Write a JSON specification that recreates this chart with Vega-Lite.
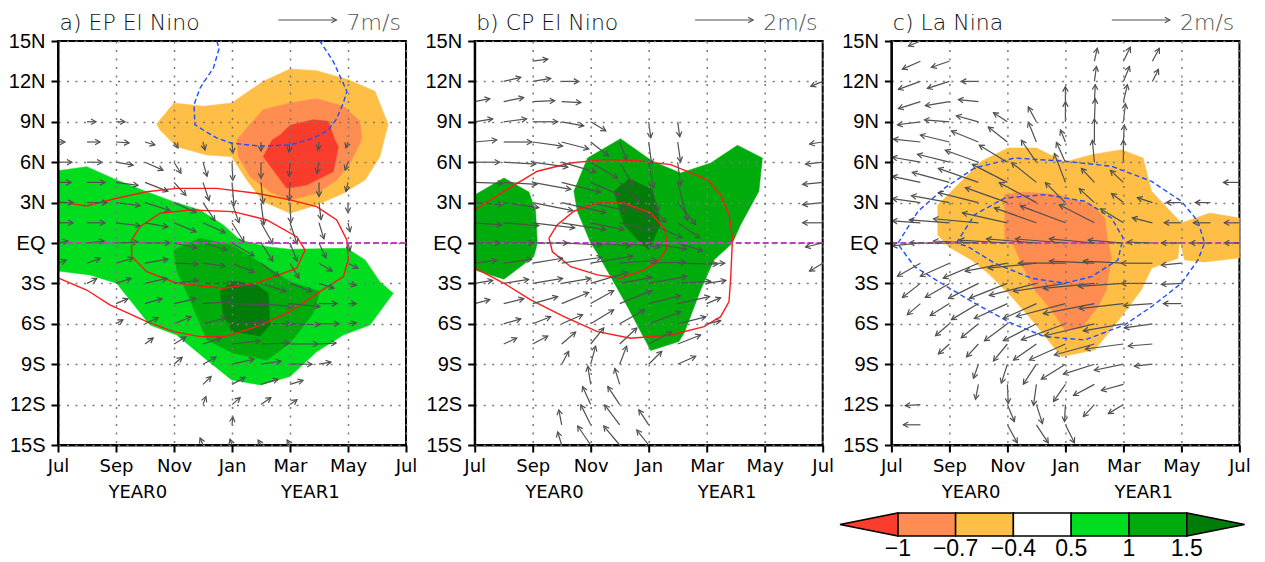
{
"$schema":"https://vega.github.io/schema/vega-lite/v6.json",
"padding":0,
"background":"white",
"config":{"view":{"stroke":"black","strokeWidth":2},"mark":{"invalid":null}},
"datasets":{
"d":[
{"k":"t","p":"a","tt":"a) EP El Nino","rt":"7m/s"},
{"k":"t","p":"b","tt":"b) CP El Nino","rt":"2m/s"},
{"k":"t","p":"c","tt":"c) La Nina","rt":"2m/s"},

{"k":"f","p":"a","id":"ao","lev":"o","i":0,"x":3.4,"y":8.84},{"k":"f","p":"a","id":"ao","lev":"o","i":1,"x":4,"y":10.4},{"k":"f","p":"a","id":"ao","lev":"o","i":2,"x":5.01,"y":10.15},{"k":"f","p":"a","id":"ao","lev":"o","i":3,"x":5.99,"y":10.4},{"k":"f","p":"a","id":"ao","lev":"o","i":4,"x":7.08,"y":12.01},{"k":"f","p":"a","id":"ao","lev":"o","i":5,"x":8,"y":12.92},{"k":"f","p":"a","id":"ao","lev":"o","i":6,"x":8.92,"y":12.8},{"k":"f","p":"a","id":"ao","lev":"o","i":7,"x":10.01,"y":12.13},{"k":"f","p":"a","id":"ao","lev":"o","i":8,"x":10.93,"y":11.27},{"k":"f","p":"a","id":"ao","lev":"o","i":9,"x":11.39,"y":8.79},{"k":"f","p":"a","id":"ao","lev":"o","i":10,"x":11.33,"y":8.39},{"k":"f","p":"a","id":"ao","lev":"o","i":11,"x":11.1,"y":6.41},{"k":"f","p":"a","id":"ao","lev":"o","i":12,"x":10.59,"y":4.68},{"k":"f","p":"a","id":"ao","lev":"o","i":13,"x":9.84,"y":3.69},{"k":"f","p":"a","id":"ao","lev":"o","i":14,"x":8.92,"y":2.82},{"k":"f","p":"a","id":"ao","lev":"o","i":15,"x":8,"y":2.21},{"k":"f","p":"a","id":"ao","lev":"o","i":16,"x":7.08,"y":3.07},{"k":"f","p":"a","id":"ao","lev":"o","i":17,"x":6.51,"y":4.68},{"k":"f","p":"a","id":"ao","lev":"o","i":18,"x":5.99,"y":6.41},{"k":"f","p":"a","id":"ao","lev":"o","i":19,"x":5.13,"y":6.54},{"k":"f","p":"a","id":"ao","lev":"o","i":20,"x":4.09,"y":7.15},{"k":"f","p":"a","id":"ao","lev":"o","i":21,"x":3.52,"y":8.39},

{"k":"f","p":"a","id":"as","lev":"s","i":0,"x":6.51,"y":8.54},{"k":"f","p":"a","id":"as","lev":"s","i":1,"x":7.08,"y":9.9},{"k":"f","p":"a","id":"as","lev":"s","i":2,"x":8,"y":10.4},{"k":"f","p":"a","id":"as","lev":"s","i":3,"x":8.92,"y":10.72},{"k":"f","p":"a","id":"as","lev":"s","i":4,"x":9.84,"y":10.15},{"k":"f","p":"a","id":"as","lev":"s","i":5,"x":10.41,"y":9.04},{"k":"f","p":"a","id":"as","lev":"s","i":6,"x":10.47,"y":7.8},{"k":"f","p":"a","id":"as","lev":"s","i":7,"x":10.41,"y":7.41},{"k":"f","p":"a","id":"as","lev":"s","i":8,"x":10.07,"y":5.92},{"k":"f","p":"a","id":"as","lev":"s","i":9,"x":9.61,"y":4.68},{"k":"f","p":"a","id":"as","lev":"s","i":10,"x":8.92,"y":3.69},{"k":"f","p":"a","id":"as","lev":"s","i":11,"x":8,"y":3.2},{"k":"f","p":"a","id":"as","lev":"s","i":12,"x":7.31,"y":3.81},{"k":"f","p":"a","id":"as","lev":"s","i":13,"x":6.62,"y":4.93},{"k":"f","p":"a","id":"as","lev":"s","i":14,"x":6.22,"y":6.41},{"k":"f","p":"a","id":"as","lev":"s","i":15,"x":6.17,"y":7.65},

{"k":"f","p":"a","id":"ar","lev":"r","i":0,"x":7.66,"y":8.02},{"k":"f","p":"a","id":"ar","lev":"r","i":1,"x":8,"y":8.74},{"k":"f","p":"a","id":"ar","lev":"r","i":2,"x":8.8,"y":9.16},{"k":"f","p":"a","id":"ar","lev":"r","i":3,"x":9.32,"y":9.04},{"k":"f","p":"a","id":"ar","lev":"r","i":4,"x":9.55,"y":7.65},{"k":"f","p":"a","id":"ar","lev":"r","i":5,"x":9.67,"y":7.15},{"k":"f","p":"a","id":"ar","lev":"r","i":6,"x":9.49,"y":5.3},{"k":"f","p":"a","id":"ar","lev":"r","i":7,"x":8.58,"y":4.31},{"k":"f","p":"a","id":"ar","lev":"r","i":8,"x":7.89,"y":4.06},{"k":"f","p":"a","id":"ar","lev":"r","i":9,"x":7.08,"y":6.41},{"k":"f","p":"a","id":"ar","lev":"r","i":10,"x":7.38,"y":7.65},

{"k":"f","p":"a","id":"ag","lev":"g","i":0,"x":0,"y":5.37},{"k":"f","p":"a","id":"ag","lev":"g","i":1,"x":0.99,"y":5.67},{"k":"f","p":"a","id":"ag","lev":"g","i":2,"x":2.02,"y":4.68},{"k":"f","p":"a","id":"ag","lev":"g","i":3,"x":3.06,"y":3.81},{"k":"f","p":"a","id":"ag","lev":"g","i":4,"x":3.98,"y":3.07},{"k":"f","p":"a","id":"ag","lev":"g","i":5,"x":4.9,"y":2.45},{"k":"f","p":"a","id":"ag","lev":"g","i":6,"x":5.7,"y":1.34},{"k":"f","p":"a","id":"ag","lev":"g","i":7,"x":6.28,"y":0.23},{"k":"f","p":"a","id":"ag","lev":"g","i":8,"x":7.2,"y":-0.27},{"k":"f","p":"a","id":"ag","lev":"g","i":9,"x":8,"y":-0.46},{"k":"f","p":"a","id":"ag","lev":"g","i":10,"x":9.96,"y":-0.39},{"k":"f","p":"a","id":"ag","lev":"g","i":11,"x":10.59,"y":-1.26},{"k":"f","p":"a","id":"ag","lev":"g","i":12,"x":11.1,"y":-2.87},{"k":"f","p":"a","id":"ag","lev":"g","i":13,"x":11.56,"y":-3.73},{"k":"f","p":"a","id":"ag","lev":"g","i":14,"x":10.76,"y":-6.08},{"k":"f","p":"a","id":"ag","lev":"g","i":15,"x":9.84,"y":-6.83},{"k":"f","p":"a","id":"ag","lev":"g","i":16,"x":8.92,"y":-8.07},{"k":"f","p":"a","id":"ag","lev":"g","i":17,"x":8,"y":-9.92},{"k":"f","p":"a","id":"ag","lev":"g","i":18,"x":6.97,"y":-10.54},{"k":"f","p":"a","id":"ag","lev":"g","i":19,"x":5.99,"y":-10.17},{"k":"f","p":"a","id":"ag","lev":"g","i":20,"x":5.13,"y":-8.68},{"k":"f","p":"a","id":"ag","lev":"g","i":21,"x":4.09,"y":-6.83},{"k":"f","p":"a","id":"ag","lev":"g","i":22,"x":3.17,"y":-6.08},{"k":"f","p":"a","id":"ag","lev":"g","i":23,"x":2.02,"y":-2.99},{"k":"f","p":"a","id":"ag","lev":"g","i":24,"x":1.1,"y":-2.37},{"k":"f","p":"a","id":"ag","lev":"g","i":25,"x":0,"y":-2.08},

{"k":"f","p":"a","id":"am","lev":"m","i":0,"x":3.98,"y":-0.52},{"k":"f","p":"a","id":"am","lev":"m","i":1,"x":4.9,"y":0.35},{"k":"f","p":"a","id":"am","lev":"m","i":2,"x":5.99,"y":-0.14},{"k":"f","p":"a","id":"am","lev":"m","i":3,"x":7.2,"y":-1.76},{"k":"f","p":"a","id":"am","lev":"m","i":4,"x":8,"y":-2.87},{"k":"f","p":"a","id":"am","lev":"m","i":5,"x":9.03,"y":-3.61},{"k":"f","p":"a","id":"am","lev":"m","i":6,"x":8.8,"y":-5.22},{"k":"f","p":"a","id":"am","lev":"m","i":7,"x":8,"y":-7.44},{"k":"f","p":"a","id":"am","lev":"m","i":8,"x":7.2,"y":-8.68},{"k":"f","p":"a","id":"am","lev":"m","i":9,"x":6.04,"y":-8.19},{"k":"f","p":"a","id":"am","lev":"m","i":10,"x":5.13,"y":-7.2},{"k":"f","p":"a","id":"am","lev":"m","i":11,"x":4.55,"y":-4.23},{"k":"f","p":"a","id":"am","lev":"m","i":12,"x":4.09,"y":-2.0},

{"k":"f","p":"a","id":"ak","lev":"k","i":0,"x":5.59,"y":-3.61},{"k":"f","p":"a","id":"ak","lev":"k","i":1,"x":5.99,"y":-2.8},{"k":"f","p":"a","id":"ak","lev":"k","i":2,"x":6.85,"y":-3.11},{"k":"f","p":"a","id":"ak","lev":"k","i":3,"x":7.25,"y":-3.73},{"k":"f","p":"a","id":"ak","lev":"k","i":4,"x":7.31,"y":-6.08},{"k":"f","p":"a","id":"ak","lev":"k","i":5,"x":6.97,"y":-6.9},{"k":"f","p":"a","id":"ak","lev":"k","i":6,"x":5.99,"y":-6.58},{"k":"f","p":"a","id":"ak","lev":"k","i":7,"x":5.7,"y":-5.34},

{"k":"f","p":"b","id":"bm1","lev":"m","i":0,"x":0,"y":3.57},{"k":"f","p":"b","id":"bm1","lev":"m","i":1,"x":1.01,"y":4.83},{"k":"f","p":"b","id":"bm1","lev":"m","i":2,"x":1.87,"y":3.79},{"k":"f","p":"b","id":"bm1","lev":"m","i":3,"x":2.1,"y":2.36},{"k":"f","p":"b","id":"bm1","lev":"m","i":4,"x":2.16,"y":0},{"k":"f","p":"b","id":"bm1","lev":"m","i":5,"x":2.04,"y":-1.01},{"k":"f","p":"b","id":"bm1","lev":"m","i":6,"x":1.01,"y":-2.69},{"k":"f","p":"b","id":"bm1","lev":"m","i":7,"x":0,"y":-2.0},

{"k":"f","p":"b","id":"bm2","lev":"m","i":0,"x":3.42,"y":3.84},{"k":"f","p":"b","id":"bm2","lev":"m","i":1,"x":3.89,"y":6.31},{"k":"f","p":"b","id":"bm2","lev":"m","i":2,"x":5.03,"y":7.75},{"k":"f","p":"b","id":"bm2","lev":"m","i":3,"x":6.13,"y":6.07},{"k":"f","p":"b","id":"bm2","lev":"m","i":4,"x":7.1,"y":5.2},{"k":"f","p":"b","id":"bm2","lev":"m","i":5,"x":8.14,"y":5.94},{"k":"f","p":"b","id":"bm2","lev":"m","i":6,"x":9.06,"y":7.26},{"k":"f","p":"b","id":"bm2","lev":"m","i":7,"x":9.92,"y":6.31},{"k":"f","p":"b","id":"bm2","lev":"m","i":8,"x":9.8,"y":3.84},{"k":"f","p":"b","id":"bm2","lev":"m","i":9,"x":9.17,"y":1.36},{"k":"f","p":"b","id":"bm2","lev":"m","i":10,"x":8.89,"y":0},{"k":"f","p":"b","id":"bm2","lev":"m","i":11,"x":8.25,"y":-1.26},{"k":"f","p":"b","id":"bm2","lev":"m","i":12,"x":7.79,"y":-3.49},{"k":"f","p":"b","id":"bm2","lev":"m","i":13,"x":7.22,"y":-6.7},{"k":"f","p":"b","id":"bm2","lev":"m","i":14,"x":7.04,"y":-7.32},{"k":"f","p":"b","id":"bm2","lev":"m","i":15,"x":6.07,"y":-7.99},{"k":"f","p":"b","id":"bm2","lev":"m","i":16,"x":5.27,"y":-4.73},{"k":"f","p":"b","id":"bm2","lev":"m","i":17,"x":4.69,"y":-2.5},{"k":"f","p":"b","id":"bm2","lev":"m","i":18,"x":4.23,"y":-0.76},{"k":"f","p":"b","id":"bm2","lev":"m","i":19,"x":4,"y":0},{"k":"f","p":"b","id":"bm2","lev":"m","i":20,"x":3.54,"y":2.36},

{"k":"f","p":"b","id":"bk","lev":"k","i":0,"x":4.8,"y":3.84},{"k":"f","p":"b","id":"bk","lev":"k","i":1,"x":5.32,"y":4.78},{"k":"f","p":"b","id":"bk","lev":"k","i":2,"x":6.13,"y":3.96},{"k":"f","p":"b","id":"bk","lev":"k","i":3,"x":6.41,"y":1.36},{"k":"f","p":"b","id":"bk","lev":"k","i":4,"x":6.13,"y":0.13},{"k":"f","p":"b","id":"bk","lev":"k","i":5,"x":6,"y":-0.52},{"k":"f","p":"b","id":"bk","lev":"k","i":6,"x":5.72,"y":0},{"k":"f","p":"b","id":"bk","lev":"k","i":7,"x":5.15,"y":1.36},

{"k":"f","p":"c","id":"co","lev":"o","i":0,"x":1.6,"y":2.82},{"k":"f","p":"c","id":"co","lev":"o","i":1,"x":2.41,"y":4.58},{"k":"f","p":"c","id":"co","lev":"o","i":2,"x":3.1,"y":6.07},{"k":"f","p":"c","id":"co","lev":"o","i":3,"x":4.02,"y":7.06},{"k":"f","p":"c","id":"co","lev":"o","i":4,"x":5,"y":7.06},{"k":"f","p":"c","id":"co","lev":"o","i":5,"x":5.98,"y":6.02},{"k":"f","p":"c","id":"co","lev":"o","i":6,"x":6.9,"y":6.56},{"k":"f","p":"c","id":"co","lev":"o","i":7,"x":7.93,"y":6.93},{"k":"f","p":"c","id":"co","lev":"o","i":8,"x":8.68,"y":6.31},{"k":"f","p":"c","id":"co","lev":"o","i":9,"x":8.97,"y":3.84},{"k":"f","p":"c","id":"co","lev":"o","i":10,"x":10,"y":1.49},{"k":"f","p":"c","id":"co","lev":"o","i":11,"x":10.98,"y":2.23},{"k":"f","p":"c","id":"co","lev":"o","i":12,"x":12,"y":1.86},{"k":"f","p":"c","id":"co","lev":"o","i":13,"x":12,"y":-1.11},{"k":"f","p":"c","id":"co","lev":"o","i":14,"x":10.8,"y":-1.41},{"k":"f","p":"c","id":"co","lev":"o","i":15,"x":10.11,"y":-1.26},{"k":"f","p":"c","id":"co","lev":"o","i":16,"x":9.94,"y":0.22},{"k":"f","p":"c","id":"co","lev":"o","i":17,"x":9.88,"y":-1.13},{"k":"f","p":"c","id":"co","lev":"o","i":18,"x":8.97,"y":-1.87},{"k":"f","p":"c","id":"co","lev":"o","i":19,"x":8.62,"y":-3.49},{"k":"f","p":"c","id":"co","lev":"o","i":20,"x":7.93,"y":-5.47},{"k":"f","p":"c","id":"co","lev":"o","i":21,"x":7.01,"y":-7.94},{"k":"f","p":"c","id":"co","lev":"o","i":22,"x":5.86,"y":-8.44},{"k":"f","p":"c","id":"co","lev":"o","i":23,"x":4.94,"y":-5.96},{"k":"f","p":"c","id":"co","lev":"o","i":24,"x":4.14,"y":-3.98},{"k":"f","p":"c","id":"co","lev":"o","i":25,"x":3.33,"y":-2.25},{"k":"f","p":"c","id":"co","lev":"o","i":26,"x":2.76,"y":-1.26},{"k":"f","p":"c","id":"co","lev":"o","i":27,"x":1.98,"y":-0.3},{"k":"f","p":"c","id":"co","lev":"o","i":28,"x":1.6,"y":0.59},

{"k":"f","p":"c","id":"cs","lev":"s","i":0,"x":3.91,"y":3.59},{"k":"f","p":"c","id":"cs","lev":"s","i":1,"x":4.6,"y":3.79},{"k":"f","p":"c","id":"cs","lev":"s","i":2,"x":5.74,"y":3.59},{"k":"f","p":"c","id":"cs","lev":"s","i":3,"x":6.9,"y":2.85},{"k":"f","p":"c","id":"cs","lev":"s","i":4,"x":7.36,"y":1.86},{"k":"f","p":"c","id":"cs","lev":"s","i":5,"x":7.47,"y":0},{"k":"f","p":"c","id":"cs","lev":"s","i":6,"x":7.59,"y":-1.01},{"k":"f","p":"c","id":"cs","lev":"s","i":7,"x":7.41,"y":-3.49},{"k":"f","p":"c","id":"cs","lev":"s","i":8,"x":7.12,"y":-4.73},{"k":"f","p":"c","id":"cs","lev":"s","i":9,"x":6.55,"y":-6.33},{"k":"f","p":"c","id":"cs","lev":"s","i":10,"x":5.98,"y":-6.45},{"k":"f","p":"c","id":"cs","lev":"s","i":11,"x":5.52,"y":-4.97},{"k":"f","p":"c","id":"cs","lev":"s","i":12,"x":4.94,"y":-3.49},{"k":"f","p":"c","id":"cs","lev":"s","i":13,"x":4.48,"y":-1.5},{"k":"f","p":"c","id":"cs","lev":"s","i":14,"x":4.14,"y":0.22},{"k":"f","p":"c","id":"cs","lev":"s","i":15,"x":3.91,"y":0},

{"k":"l","p":"a","c":"r","id":"a1","i":0,"x":0,"y":3.07},{"k":"l","p":"a","c":"r","id":"a1","i":1,"x":0.99,"y":2.75},{"k":"l","p":"a","c":"r","id":"a1","i":2,"x":2.02,"y":3.32},{"k":"l","p":"a","c":"r","id":"a1","i":3,"x":3.06,"y":3.81},{"k":"l","p":"a","c":"r","id":"a1","i":4,"x":4.09,"y":4.06},{"k":"l","p":"a","c":"r","id":"a1","i":5,"x":5.47,"y":4.06},{"k":"l","p":"a","c":"r","id":"a1","i":6,"x":6.85,"y":3.69},{"k":"l","p":"a","c":"r","id":"a1","i":7,"x":8,"y":3.2},{"k":"l","p":"a","c":"r","id":"a1","i":8,"x":8.92,"y":2.7},{"k":"l","p":"a","c":"r","id":"a1","i":9,"x":9.61,"y":1.71},{"k":"l","p":"a","c":"r","id":"a1","i":10,"x":9.96,"y":0.23},{"k":"l","p":"a","c":"r","id":"a1","i":11,"x":10.01,"y":-1.26},{"k":"l","p":"a","c":"r","id":"a1","i":12,"x":9.84,"y":-2.5},{"k":"l","p":"a","c":"r","id":"a1","i":13,"x":9.03,"y":-3.61},{"k":"l","p":"a","c":"r","id":"a1","i":14,"x":8,"y":-5.1},{"k":"l","p":"a","c":"r","id":"a1","i":15,"x":6.85,"y":-6.21},{"k":"l","p":"a","c":"r","id":"a1","i":16,"x":5.76,"y":-6.95},{"k":"l","p":"a","c":"r","id":"a1","i":17,"x":4.9,"y":-6.95},{"k":"l","p":"a","c":"r","id":"a1","i":18,"x":3.98,"y":-6.58},{"k":"l","p":"a","c":"r","id":"a1","i":19,"x":3.06,"y":-5.84},{"k":"l","p":"a","c":"r","id":"a1","i":20,"x":1.79,"y":-4.6},{"k":"l","p":"a","c":"r","id":"a1","i":21,"x":0.99,"y":-3.49},{"k":"l","p":"a","c":"r","id":"a1","i":22,"x":0,"y":-2.59},

{"k":"l","p":"a","c":"r","id":"a2","i":0,"x":2.54,"y":0.23},{"k":"l","p":"a","c":"r","id":"a2","i":1,"x":2.83,"y":1.21},{"k":"l","p":"a","c":"r","id":"a2","i":2,"x":3.52,"y":2.21},{"k":"l","p":"a","c":"r","id":"a2","i":3,"x":4.55,"y":2.45},{"k":"l","p":"a","c":"r","id":"a2","i":4,"x":6.04,"y":2.33},{"k":"l","p":"a","c":"r","id":"a2","i":5,"x":7.2,"y":1.71},{"k":"l","p":"a","c":"r","id":"a2","i":6,"x":8.23,"y":0.47},{"k":"l","p":"a","c":"r","id":"a2","i":7,"x":8.52,"y":-0.52},{"k":"l","p":"a","c":"r","id":"a2","i":8,"x":8.23,"y":-1.87},{"k":"l","p":"a","c":"r","id":"a2","i":9,"x":6.85,"y":-2.99},{"k":"l","p":"a","c":"r","id":"a2","i":10,"x":5.7,"y":-3.36},{"k":"l","p":"a","c":"r","id":"a2","i":11,"x":4.09,"y":-2.99},{"k":"l","p":"a","c":"r","id":"a2","i":12,"x":3.06,"y":-2.13},{"k":"l","p":"a","c":"r","id":"a2","i":13,"x":2.54,"y":-1.01},{"k":"l","p":"a","c":"r","id":"a2","i":14,"x":2.54,"y":0.23},

{"k":"l","p":"a","c":"b","id":"a3","i":0,"x":5.47,"y":15},{"k":"l","p":"a","c":"b","id":"a3","i":1,"x":5.56,"y":14.48},{"k":"l","p":"a","c":"b","id":"a3","i":2,"x":5.36,"y":13},{"k":"l","p":"a","c":"b","id":"a3","i":3,"x":4.9,"y":11.51},{"k":"l","p":"a","c":"b","id":"a3","i":4,"x":4.69,"y":10.27},{"k":"l","p":"a","c":"b","id":"a3","i":5,"x":4.72,"y":8.79},{"k":"l","p":"a","c":"b","id":"a3","i":6,"x":5.01,"y":8.39},{"k":"l","p":"a","c":"b","id":"a3","i":7,"x":5.47,"y":7.8},{"k":"l","p":"a","c":"b","id":"a3","i":8,"x":5.99,"y":7.41},{"k":"l","p":"a","c":"b","id":"a3","i":9,"x":6.97,"y":7.2},{"k":"l","p":"a","c":"b","id":"a3","i":10,"x":8,"y":7.28},{"k":"l","p":"a","c":"b","id":"a3","i":11,"x":8.8,"y":7.78},{"k":"l","p":"a","c":"b","id":"a3","i":12,"x":9.32,"y":8.39},{"k":"l","p":"a","c":"b","id":"a3","i":13,"x":9.6,"y":9.2},{"k":"l","p":"a","c":"b","id":"a3","i":14,"x":9.84,"y":10.4},{"k":"l","p":"a","c":"b","id":"a3","i":15,"x":9.96,"y":11.27},{"k":"l","p":"a","c":"b","id":"a3","i":16,"x":9.49,"y":13.49},{"k":"l","p":"a","c":"b","id":"a3","i":17,"x":9.03,"y":15},

{"k":"l","p":"b","c":"r","id":"b1","i":0,"x":0,"y":2.45},{"k":"l","p":"b","c":"r","id":"b1","i":1,"x":1.01,"y":3.84},{"k":"l","p":"b","c":"r","id":"b1","i":2,"x":2.16,"y":5.33},{"k":"l","p":"b","c":"r","id":"b1","i":3,"x":3.31,"y":5.94},{"k":"l","p":"b","c":"r","id":"b1","i":4,"x":4.46,"y":6.19},{"k":"l","p":"b","c":"r","id":"b1","i":5,"x":5.61,"y":6.11},{"k":"l","p":"b","c":"r","id":"b1","i":6,"x":6.76,"y":5.82},{"k":"l","p":"b","c":"r","id":"b1","i":7,"x":8.02,"y":4.7},{"k":"l","p":"b","c":"r","id":"b1","i":8,"x":8.48,"y":3.59},{"k":"l","p":"b","c":"r","id":"b1","i":9,"x":8.77,"y":2.1},{"k":"l","p":"b","c":"r","id":"b1","i":10,"x":8.89,"y":0.37},{"k":"l","p":"b","c":"r","id":"b1","i":11,"x":8.83,"y":-2.5},{"k":"l","p":"b","c":"r","id":"b1","i":12,"x":8.77,"y":-4.35},{"k":"l","p":"b","c":"r","id":"b1","i":13,"x":8.48,"y":-5.47},{"k":"l","p":"b","c":"r","id":"b1","i":14,"x":7.91,"y":-6.21},{"k":"l","p":"b","c":"r","id":"b1","i":15,"x":6.76,"y":-6.83},{"k":"l","p":"b","c":"r","id":"b1","i":16,"x":5.38,"y":-7.07},{"k":"l","p":"b","c":"r","id":"b1","i":17,"x":4.23,"y":-6.58},{"k":"l","p":"b","c":"r","id":"b1","i":18,"x":3.08,"y":-5.47},{"k":"l","p":"b","c":"r","id":"b1","i":19,"x":1.93,"y":-4.23},{"k":"l","p":"b","c":"r","id":"b1","i":20,"x":1.01,"y":-2.99},{"k":"l","p":"b","c":"r","id":"b1","i":21,"x":0,"y":-1.85},

{"k":"l","p":"b","c":"r","id":"b2","i":0,"x":2.56,"y":0.37},{"k":"l","p":"b","c":"r","id":"b2","i":1,"x":2.85,"y":1.36},{"k":"l","p":"b","c":"r","id":"b2","i":2,"x":3.42,"y":2.36},{"k":"l","p":"b","c":"r","id":"b2","i":3,"x":4.23,"y":2.97},{"k":"l","p":"b","c":"r","id":"b2","i":4,"x":5.15,"y":2.97},{"k":"l","p":"b","c":"r","id":"b2","i":5,"x":6.07,"y":2.23},{"k":"l","p":"b","c":"r","id":"b2","i":6,"x":6.53,"y":1.12},{"k":"l","p":"b","c":"r","id":"b2","i":7,"x":6.64,"y":0},{"k":"l","p":"b","c":"r","id":"b2","i":8,"x":6.59,"y":-0.52},{"k":"l","p":"b","c":"r","id":"b2","i":9,"x":6.3,"y":-1.39},{"k":"l","p":"b","c":"r","id":"b2","i":10,"x":5.84,"y":-2.0},{"k":"l","p":"b","c":"r","id":"b2","i":11,"x":5.03,"y":-2.62},{"k":"l","p":"b","c":"r","id":"b2","i":12,"x":4.23,"y":-2.37},{"k":"l","p":"b","c":"r","id":"b2","i":13,"x":3.31,"y":-1.76},{"k":"l","p":"b","c":"r","id":"b2","i":14,"x":2.68,"y":-0.65},{"k":"l","p":"b","c":"r","id":"b2","i":15,"x":2.56,"y":0.37},

{"k":"l","p":"c","c":"b","id":"c1","i":0,"x":0.23,"y":0},{"k":"l","p":"c","c":"b","id":"c1","i":1,"x":0.92,"y":2.36},{"k":"l","p":"c","c":"b","id":"c1","i":2,"x":1.84,"y":4.09},{"k":"l","p":"c","c":"b","id":"c1","i":3,"x":2.87,"y":5.57},{"k":"l","p":"c","c":"b","id":"c1","i":4,"x":4.25,"y":6.31},{"k":"l","p":"c","c":"b","id":"c1","i":5,"x":5.98,"y":6.07},{"k":"l","p":"c","c":"b","id":"c1","i":6,"x":7.59,"y":5.7},{"k":"l","p":"c","c":"b","id":"c1","i":7,"x":8.97,"y":4.58},{"k":"l","p":"c","c":"b","id":"c1","i":8,"x":10,"y":3.1},{"k":"l","p":"c","c":"b","id":"c1","i":9,"x":10.57,"y":1.61},{"k":"l","p":"c","c":"b","id":"c1","i":10,"x":10.8,"y":0},{"k":"l","p":"c","c":"b","id":"c1","i":11,"x":10.57,"y":-1.26},{"k":"l","p":"c","c":"b","id":"c1","i":12,"x":10,"y":-2.99},{"k":"l","p":"c","c":"b","id":"c1","i":13,"x":8.97,"y":-4.73},{"k":"l","p":"c","c":"b","id":"c1","i":14,"x":8.04,"y":-6.08},{"k":"l","p":"c","c":"b","id":"c1","i":15,"x":6.67,"y":-7.2},{"k":"l","p":"c","c":"b","id":"c1","i":16,"x":5.29,"y":-6.95},{"k":"l","p":"c","c":"b","id":"c1","i":17,"x":4.14,"y":-5.96},{"k":"l","p":"c","c":"b","id":"c1","i":18,"x":2.87,"y":-4.47},{"k":"l","p":"c","c":"b","id":"c1","i":19,"x":1.72,"y":-2.99},{"k":"l","p":"c","c":"b","id":"c1","i":20,"x":0.8,"y":-1.76},{"k":"l","p":"c","c":"b","id":"c1","i":21,"x":0.29,"y":-0.27},{"k":"l","p":"c","c":"b","id":"c1","i":22,"x":0.23,"y":0},

{"k":"l","p":"c","c":"b","id":"c2","i":0,"x":2.24,"y":0},{"k":"l","p":"c","c":"b","id":"c2","i":1,"x":2.87,"y":2.1},{"k":"l","p":"c","c":"b","id":"c2","i":2,"x":3.91,"y":3.34},{"k":"l","p":"c","c":"b","id":"c2","i":3,"x":5.29,"y":3.59},{"k":"l","p":"c","c":"b","id":"c2","i":4,"x":6.67,"y":3.1},{"k":"l","p":"c","c":"b","id":"c2","i":5,"x":7.59,"y":1.86},{"k":"l","p":"c","c":"b","id":"c2","i":6,"x":7.99,"y":0.37},{"k":"l","p":"c","c":"b","id":"c2","i":7,"x":7.81,"y":-1.26},{"k":"l","p":"c","c":"b","id":"c2","i":8,"x":6.9,"y":-2.5},{"k":"l","p":"c","c":"b","id":"c2","i":9,"x":5.98,"y":-2.99},{"k":"l","p":"c","c":"b","id":"c2","i":10,"x":4.83,"y":-2.62},{"k":"l","p":"c","c":"b","id":"c2","i":11,"x":3.56,"y":-1.5},{"k":"l","p":"c","c":"b","id":"c2","i":12,"x":2.64,"y":-0.27},{"k":"l","p":"c","c":"b","id":"c2","i":13,"x":2.24,"y":0},

{"k":"v","p":"a","x":1,"y":9,"x2":1.31,"y2":9,"r":0},{"k":"v","p":"a","x":2,"y":9,"x2":2.31,"y2":9,"r":0},
{"k":"v","p":"a","x":0,"y":7.5,"x2":0.24,"y2":7.5,"r":0},{"k":"v","p":"a","x":1,"y":7.5,"x2":1.45,"y2":7.5,"r":0},{"k":"v","p":"a","x":2,"y":7.5,"x2":2.45,"y2":7.43,"r":4},{"k":"v","p":"a","x":3,"y":7.5,"x2":3.34,"y2":7.28,"r":17},{"k":"v","p":"a","x":4,"y":7.5,"x2":4.14,"y2":7.06,"r":56},{"k":"v","p":"a","x":5,"y":7.5,"x2":5.07,"y2":6.91,"r":76},{"k":"v","p":"a","x":6,"y":7.5,"x2":6.03,"y2":6.68,"r":85},{"k":"v","p":"a","x":7,"y":7.5,"x2":7,"y2":6.83,"r":90},{"k":"v","p":"a","x":8,"y":7.5,"x2":7.97,"y2":6.76,"r":96},{"k":"v","p":"a","x":9,"y":7.5,"x2":8.97,"y2":6.91,"r":97},{"k":"v","p":"a","x":10,"y":7.5,"x2":9.93,"y2":7.06,"r":108},
{"k":"v","p":"a","x":0,"y":6,"x2":0.48,"y2":6,"r":0},{"k":"v","p":"a","x":1,"y":6,"x2":1.52,"y2":6,"r":0},{"k":"v","p":"a","x":2,"y":6,"x2":2.59,"y2":5.78,"r":10},{"k":"v","p":"a","x":3,"y":6,"x2":3.62,"y2":5.41,"r":24},{"k":"v","p":"a","x":4,"y":6,"x2":4.24,"y2":5.18,"r":58},{"k":"v","p":"a","x":5,"y":6,"x2":5.14,"y2":4.96,"r":74},{"k":"v","p":"a","x":6,"y":6,"x2":6.03,"y2":4.66,"r":87},{"k":"v","p":"a","x":7,"y":6,"x2":7,"y2":4.81,"r":90},{"k":"v","p":"a","x":8,"y":6,"x2":7.97,"y2":4.96,"r":94},{"k":"v","p":"a","x":9,"y":6,"x2":8.93,"y2":5.18,"r":100},{"k":"v","p":"a","x":10,"y":6,"x2":9.9,"y2":5.41,"r":110},
{"k":"v","p":"a","x":0,"y":4.5,"x2":0.45,"y2":4.5,"r":0},{"k":"v","p":"a","x":1,"y":4.5,"x2":1.62,"y2":4.5,"r":0},{"k":"v","p":"a","x":2,"y":4.5,"x2":2.76,"y2":4.28,"r":8},{"k":"v","p":"a","x":3,"y":4.5,"x2":3.79,"y2":3.83,"r":21},{"k":"v","p":"a","x":4,"y":4.5,"x2":4.41,"y2":3.54,"r":47},{"k":"v","p":"a","x":5,"y":4.5,"x2":5.21,"y2":3.16,"r":72},{"k":"v","p":"a","x":6,"y":4.5,"x2":6.07,"y2":2.79,"r":85},{"k":"v","p":"a","x":7,"y":4.5,"x2":7.07,"y2":2.94,"r":85},{"k":"v","p":"a","x":8,"y":4.5,"x2":7.97,"y2":3.16,"r":93},{"k":"v","p":"a","x":9,"y":4.5,"x2":9,"y2":3.46,"r":90},{"k":"v","p":"a","x":10,"y":4.5,"x2":9.93,"y2":3.83,"r":103},
{"k":"v","p":"a","x":0,"y":3,"x2":0.52,"y2":3,"r":0},{"k":"v","p":"a","x":1,"y":3,"x2":1.69,"y2":3,"r":0},{"k":"v","p":"a","x":2,"y":3,"x2":2.83,"y2":2.78,"r":7},{"k":"v","p":"a","x":3,"y":3,"x2":3.86,"y2":2.41,"r":18},{"k":"v","p":"a","x":4,"y":3,"x2":4.76,"y2":2.26,"r":24},{"k":"v","p":"a","x":5,"y":3,"x2":5.41,"y2":1.66,"r":56},{"k":"v","p":"a","x":6,"y":3,"x2":6.24,"y2":1.51,"r":71},{"k":"v","p":"a","x":7,"y":3,"x2":7.1,"y2":1.37,"r":82},{"k":"v","p":"a","x":8,"y":3,"x2":8.03,"y2":1.51,"r":87},{"k":"v","p":"a","x":9,"y":3,"x2":9.07,"y2":1.74,"r":83},{"k":"v","p":"a","x":10,"y":3,"x2":10,"y2":2.26,"r":90},
{"k":"v","p":"a","x":0,"y":1.5,"x2":0.52,"y2":1.5,"r":0},{"k":"v","p":"a","x":1,"y":1.5,"x2":1.62,"y2":1.5,"r":0},{"k":"v","p":"a","x":2,"y":1.5,"x2":2.83,"y2":1.28,"r":7},{"k":"v","p":"a","x":3,"y":1.5,"x2":3.79,"y2":1.2,"r":10},{"k":"v","p":"a","x":4,"y":1.5,"x2":4.76,"y2":0.83,"r":22},{"k":"v","p":"a","x":5,"y":1.5,"x2":5.76,"y2":0.76,"r":24},{"k":"v","p":"a","x":6,"y":1.5,"x2":6.41,"y2":0.09,"r":58},{"k":"v","p":"a","x":7,"y":1.5,"x2":7.41,"y2":-0.06,"r":60},{"k":"v","p":"a","x":8,"y":1.5,"x2":8.24,"y2":-0.06,"r":72},{"k":"v","p":"a","x":9,"y":1.5,"x2":9.17,"y2":0.31,"r":73},{"k":"v","p":"a","x":10,"y":1.5,"x2":10.07,"y2":0.83,"r":77},
{"k":"v","p":"a","x":0,"y":0,"x2":0.34,"y2":0.15,"r":-11},{"k":"v","p":"a","x":1,"y":0,"x2":1.59,"y2":0.15,"r":-7},{"k":"v","p":"a","x":2,"y":0,"x2":2.76,"y2":0.07,"r":-3},{"k":"v","p":"a","x":3,"y":0,"x2":3.86,"y2":0,"r":0},{"k":"v","p":"a","x":4,"y":0,"x2":4.79,"y2":-0.37,"r":12},{"k":"v","p":"a","x":5,"y":0,"x2":5.83,"y2":-0.52,"r":16},{"k":"v","p":"a","x":6,"y":0,"x2":6.76,"y2":-0.96,"r":31},{"k":"v","p":"a","x":7,"y":0,"x2":7.41,"y2":-1.34,"r":56},{"k":"v","p":"a","x":8,"y":0,"x2":8.24,"y2":-1.34,"r":69},{"k":"v","p":"a","x":9,"y":0,"x2":9.24,"y2":-1.11,"r":65},{"k":"v","p":"a","x":10,"y":0,"x2":10.07,"y2":-0.59,"r":76},
{"k":"v","p":"a","x":0,"y":-1.5,"x2":0.28,"y2":-1.28,"r":-21},{"k":"v","p":"a","x":1,"y":-1.5,"x2":1.45,"y2":-1.13,"r":-21},{"k":"v","p":"a","x":2,"y":-1.5,"x2":2.59,"y2":-1.13,"r":-16},{"k":"v","p":"a","x":3,"y":-1.5,"x2":3.79,"y2":-1.2,"r":-10},{"k":"v","p":"a","x":4,"y":-1.5,"x2":4.83,"y2":-1.57,"r":2},{"k":"v","p":"a","x":5,"y":-1.5,"x2":5.76,"y2":-1.72,"r":8},{"k":"v","p":"a","x":6,"y":-1.5,"x2":6.76,"y2":-2.17,"r":22},{"k":"v","p":"a","x":7,"y":-1.5,"x2":7.62,"y2":-2.46,"r":36},{"k":"v","p":"a","x":8,"y":-1.5,"x2":8.31,"y2":-2.61,"r":59},{"k":"v","p":"a","x":9,"y":-1.5,"x2":9.45,"y2":-2.09,"r":32},{"k":"v","p":"a","x":10,"y":-1.5,"x2":10.34,"y2":-1.87,"r":27},
{"k":"v","p":"a","x":1,"y":-3,"x2":1.34,"y2":-2.63,"r":-27},{"k":"v","p":"a","x":2,"y":-3,"x2":2.52,"y2":-2.63,"r":-18},{"k":"v","p":"a","x":3,"y":-3,"x2":3.76,"y2":-2.63,"r":-13},{"k":"v","p":"a","x":4,"y":-3,"x2":4.83,"y2":-2.78,"r":-7},{"k":"v","p":"a","x":5,"y":-3,"x2":6,"y2":-3,"r":0},{"k":"v","p":"a","x":6,"y":-3,"x2":6.79,"y2":-3.22,"r":7},{"k":"v","p":"a","x":7,"y":-3,"x2":7.86,"y2":-3.59,"r":18},{"k":"v","p":"a","x":8,"y":-3,"x2":8.76,"y2":-3.59,"r":20},{"k":"v","p":"a","x":9,"y":-3,"x2":9.52,"y2":-3.37,"r":18},{"k":"v","p":"a","x":10,"y":-3,"x2":10.28,"y2":-3.15,"r":14},
{"k":"v","p":"a","x":2,"y":-4.5,"x2":2.41,"y2":-4.13,"r":-23},{"k":"v","p":"a","x":3,"y":-4.5,"x2":3.59,"y2":-4.13,"r":-16},{"k":"v","p":"a","x":4,"y":-4.5,"x2":4.76,"y2":-4.13,"r":-13},{"k":"v","p":"a","x":5,"y":-4.5,"x2":6,"y2":-4.35,"r":-4},{"k":"v","p":"a","x":6,"y":-4.5,"x2":7.1,"y2":-4.57,"r":2},{"k":"v","p":"a","x":7,"y":-4.5,"x2":8.1,"y2":-4.72,"r":5},{"k":"v","p":"a","x":8,"y":-4.5,"x2":9.03,"y2":-4.72,"r":6},{"k":"v","p":"a","x":9,"y":-4.5,"x2":9.62,"y2":-4.5,"r":0},{"k":"v","p":"a","x":10,"y":-4.5,"x2":10.28,"y2":-4.5,"r":0},
{"k":"v","p":"a","x":2,"y":-6,"x2":2.24,"y2":-5.7,"r":-30},{"k":"v","p":"a","x":3,"y":-6,"x2":3.45,"y2":-5.55,"r":-25},{"k":"v","p":"a","x":4,"y":-6,"x2":4.59,"y2":-5.48,"r":-22},{"k":"v","p":"a","x":5,"y":-6,"x2":5.79,"y2":-5.55,"r":-15},{"k":"v","p":"a","x":6,"y":-6,"x2":7.1,"y2":-5.85,"r":-4},{"k":"v","p":"a","x":7,"y":-6,"x2":8.03,"y2":-6,"r":0},{"k":"v","p":"a","x":8,"y":-6,"x2":9.03,"y2":-6.07,"r":2},{"k":"v","p":"a","x":9,"y":-6,"x2":9.69,"y2":-6,"r":0},{"k":"v","p":"a","x":10,"y":-6,"x2":10.28,"y2":-5.93,"r":-7},
{"k":"v","p":"a","x":3,"y":-7.5,"x2":3.28,"y2":-7.06,"r":-37},{"k":"v","p":"a","x":4,"y":-7.5,"x2":4.41,"y2":-6.98,"r":-30},{"k":"v","p":"a","x":5,"y":-7.5,"x2":5.62,"y2":-7.06,"r":-18},{"k":"v","p":"a","x":6,"y":-7.5,"x2":6.97,"y2":-7.28,"r":-6},{"k":"v","p":"a","x":7,"y":-7.5,"x2":7.97,"y2":-7.43,"r":-2},{"k":"v","p":"a","x":8,"y":-7.5,"x2":8.97,"y2":-7.5,"r":0},{"k":"v","p":"a","x":9,"y":-7.5,"x2":9.59,"y2":-7.43,"r":-3},
{"k":"v","p":"a","x":4,"y":-9,"x2":4.28,"y2":-8.48,"r":-41},{"k":"v","p":"a","x":5,"y":-9,"x2":5.45,"y2":-8.48,"r":-28},{"k":"v","p":"a","x":6,"y":-9,"x2":6.76,"y2":-8.63,"r":-13},{"k":"v","p":"a","x":7,"y":-9,"x2":7.69,"y2":-8.78,"r":-9},{"k":"v","p":"a","x":8,"y":-9,"x2":8.76,"y2":-9,"r":0},{"k":"v","p":"a","x":9,"y":-9,"x2":9.41,"y2":-8.85,"r":-9},
{"k":"v","p":"a","x":5,"y":-10.5,"x2":5.28,"y2":-9.91,"r":-45},{"k":"v","p":"a","x":6,"y":-10.5,"x2":6.45,"y2":-9.98,"r":-28},{"k":"v","p":"a","x":7,"y":-10.5,"x2":7.59,"y2":-10.13,"r":-16},{"k":"v","p":"a","x":8,"y":-10.5,"x2":8.45,"y2":-10.2,"r":-17},
{"k":"v","p":"a","x":5,"y":-12,"x2":5.1,"y2":-11.41,"r":-69},{"k":"v","p":"a","x":6,"y":-12,"x2":6.28,"y2":-11.48,"r":-41},{"k":"v","p":"a","x":7,"y":-12,"x2":7.34,"y2":-11.48,"r":-35},{"k":"v","p":"a","x":8,"y":-12,"x2":8.24,"y2":-11.63,"r":-36},
{"k":"v","p":"a","x":6,"y":-13.5,"x2":6.03,"y2":-12.91,"r":-83},
{"k":"v","p":"a","x":5,"y":-15,"x2":4.9,"y2":-14.48,"r":-113},{"k":"v","p":"a","x":6,"y":-15,"x2":5.93,"y2":-14.56,"r":-108},{"k":"v","p":"a","x":7,"y":-15,"x2":6.9,"y2":-14.63,"r":-121},{"k":"v","p":"a","x":8,"y":-15,"x2":7.9,"y2":-14.63,"r":-121},

{"k":"v","p":"b","x":2,"y":13.5,"x2":2.52,"y2":13.65,"r":-8},
{"k":"v","p":"b","x":1,"y":12,"x2":1.59,"y2":12.3,"r":-13},{"k":"v","p":"b","x":2,"y":12,"x2":2.62,"y2":12.22,"r":-9},{"k":"v","p":"b","x":3,"y":12,"x2":3.59,"y2":12,"r":0},{"k":"v","p":"b","x":12,"y":12,"x2":11.59,"y2":11.63,"r":157},
{"k":"v","p":"b","x":0,"y":10.5,"x2":0.52,"y2":10.72,"r":-11},{"k":"v","p":"b","x":1,"y":10.5,"x2":1.69,"y2":10.8,"r":-11},{"k":"v","p":"b","x":2,"y":10.5,"x2":2.76,"y2":10.57,"r":-3},{"k":"v","p":"b","x":3,"y":10.5,"x2":3.66,"y2":10.43,"r":3},
{"k":"v","p":"b","x":0,"y":9,"x2":0.62,"y2":9.22,"r":-9},{"k":"v","p":"b","x":1,"y":9,"x2":1.79,"y2":9.22,"r":-7},{"k":"v","p":"b","x":2,"y":9,"x2":2.86,"y2":9,"r":0},{"k":"v","p":"b","x":3,"y":9,"x2":3.76,"y2":8.7,"r":10},{"k":"v","p":"b","x":4,"y":9,"x2":4.52,"y2":8.33,"r":31},{"k":"v","p":"b","x":6,"y":9,"x2":6.07,"y2":7.81,"r":83},{"k":"v","p":"b","x":7,"y":9,"x2":7.07,"y2":7.89,"r":82},
{"k":"v","p":"b","x":0,"y":7.5,"x2":0.76,"y2":7.65,"r":-5},{"k":"v","p":"b","x":1,"y":7.5,"x2":1.97,"y2":7.5,"r":0},{"k":"v","p":"b","x":2,"y":7.5,"x2":3.03,"y2":7.2,"r":8},{"k":"v","p":"b","x":3,"y":7.5,"x2":3.93,"y2":6.98,"r":15},{"k":"v","p":"b","x":4,"y":7.5,"x2":4.62,"y2":6.46,"r":38},{"k":"v","p":"b","x":5,"y":7.5,"x2":5.24,"y2":6.16,"r":69},{"k":"v","p":"b","x":6,"y":7.5,"x2":6.1,"y2":5.87,"r":82},{"k":"v","p":"b","x":7,"y":7.5,"x2":7.1,"y2":6.02,"r":81},{"k":"v","p":"b","x":12,"y":7.5,"x2":11.55,"y2":7.35,"r":171},
{"k":"v","p":"b","x":0,"y":6,"x2":0.86,"y2":6,"r":0},{"k":"v","p":"b","x":1,"y":6,"x2":2.1,"y2":5.85,"r":4},{"k":"v","p":"b","x":2,"y":6,"x2":3.21,"y2":5.63,"r":8},{"k":"v","p":"b","x":3,"y":6,"x2":4.17,"y2":5.26,"r":16},{"k":"v","p":"b","x":4,"y":6,"x2":4.93,"y2":4.81,"r":31},{"k":"v","p":"b","x":5,"y":6,"x2":5.45,"y2":4.29,"r":61},{"k":"v","p":"b","x":6,"y":6,"x2":6.17,"y2":4.07,"r":79},{"k":"v","p":"b","x":7,"y":6,"x2":7.1,"y2":4.29,"r":83},{"k":"v","p":"b","x":12,"y":6,"x2":11.41,"y2":5.85,"r":173},
{"k":"v","p":"b","x":0,"y":4.5,"x2":0.97,"y2":4.43,"r":2},{"k":"v","p":"b","x":1,"y":4.5,"x2":2.14,"y2":4.35,"r":3},{"k":"v","p":"b","x":2,"y":4.5,"x2":3.31,"y2":3.98,"r":10},{"k":"v","p":"b","x":3,"y":4.5,"x2":4.34,"y2":3.76,"r":14},{"k":"v","p":"b","x":4,"y":4.5,"x2":5.03,"y2":3.54,"r":23},{"k":"v","p":"b","x":5,"y":4.5,"x2":5.69,"y2":3.02,"r":45},{"k":"v","p":"b","x":6,"y":4.5,"x2":6.34,"y2":2.42,"r":70},{"k":"v","p":"b","x":7,"y":4.5,"x2":7.34,"y2":1.68,"r":75},{"k":"v","p":"b","x":12,"y":4.5,"x2":11.31,"y2":4.35,"r":174},
{"k":"v","p":"b","x":0,"y":3,"x2":0.97,"y2":2.85,"r":4},{"k":"v","p":"b","x":1,"y":3,"x2":2.21,"y2":2.63,"r":8},{"k":"v","p":"b","x":2,"y":3,"x2":3.38,"y2":2.41,"r":11},{"k":"v","p":"b","x":3,"y":3,"x2":4.52,"y2":2.26,"r":13},{"k":"v","p":"b","x":4,"y":3,"x2":5.21,"y2":2.41,"r":13},{"k":"v","p":"b","x":5,"y":3,"x2":6.1,"y2":1.89,"r":25},{"k":"v","p":"b","x":6,"y":3,"x2":6.59,"y2":1.51,"r":50},{"k":"v","p":"b","x":7,"y":3,"x2":7.62,"y2":1.37,"r":51},{"k":"v","p":"b","x":12,"y":3,"x2":11.31,"y2":2.85,"r":174},
{"k":"v","p":"b","x":0,"y":1.5,"x2":0.93,"y2":1.35,"r":4},{"k":"v","p":"b","x":1,"y":1.5,"x2":2.21,"y2":1.28,"r":5},{"k":"v","p":"b","x":2,"y":1.5,"x2":3.45,"y2":1.13,"r":7},{"k":"v","p":"b","x":3,"y":1.5,"x2":4.52,"y2":0.98,"r":9},{"k":"v","p":"b","x":4,"y":1.5,"x2":5.14,"y2":0.98,"r":12},{"k":"v","p":"b","x":5,"y":1.5,"x2":6.1,"y2":0.91,"r":14},{"k":"v","p":"b","x":6,"y":1.5,"x2":7.14,"y2":0.39,"r":24},{"k":"v","p":"b","x":7,"y":1.5,"x2":7.76,"y2":0.39,"r":34},{"k":"v","p":"b","x":12,"y":1.5,"x2":11.31,"y2":1.5,"r":180},
{"k":"v","p":"b","x":0,"y":0,"x2":0.86,"y2":0,"r":0},{"k":"v","p":"b","x":1,"y":0,"x2":2.03,"y2":0,"r":0},{"k":"v","p":"b","x":2,"y":0,"x2":3.21,"y2":0,"r":0},{"k":"v","p":"b","x":3,"y":0,"x2":4.38,"y2":-0.15,"r":3},{"k":"v","p":"b","x":4,"y":0,"x2":5.38,"y2":-0.22,"r":4},{"k":"v","p":"b","x":5,"y":0,"x2":6.38,"y2":-0.3,"r":6},{"k":"v","p":"b","x":6,"y":0,"x2":7.31,"y2":-0.45,"r":9},{"k":"v","p":"b","x":7,"y":0,"x2":7.86,"y2":-0.59,"r":18},{"k":"v","p":"b","x":12,"y":0,"x2":11.41,"y2":-0.3,"r":167},
{"k":"v","p":"b","x":0,"y":-1.5,"x2":0.76,"y2":-1.28,"r":-8},{"k":"v","p":"b","x":1,"y":-1.5,"x2":1.97,"y2":-1.2,"r":-8},{"k":"v","p":"b","x":2,"y":-1.5,"x2":3.03,"y2":-1.13,"r":-9},{"k":"v","p":"b","x":3,"y":-1.5,"x2":4.38,"y2":-1.06,"r":-9},{"k":"v","p":"b","x":4,"y":-1.5,"x2":5.45,"y2":-0.98,"r":-9},{"k":"v","p":"b","x":5,"y":-1.5,"x2":6.28,"y2":-1.28,"r":-5},{"k":"v","p":"b","x":6,"y":-1.5,"x2":7.28,"y2":-1.43,"r":-2},{"k":"v","p":"b","x":7,"y":-1.5,"x2":8.38,"y2":-1.57,"r":1},{"k":"v","p":"b","x":8,"y":-1.5,"x2":8.62,"y2":-1.5,"r":0},{"k":"v","p":"b","x":12,"y":-1.5,"x2":11.55,"y2":-2.09,"r":148},
{"k":"v","p":"b","x":0,"y":-3,"x2":0.62,"y2":-2.78,"r":-9},{"k":"v","p":"b","x":1,"y":-3,"x2":1.86,"y2":-2.7,"r":-9},{"k":"v","p":"b","x":2,"y":-3,"x2":3.03,"y2":-2.63,"r":-9},{"k":"v","p":"b","x":3,"y":-3,"x2":4,"y2":-2.63,"r":-10},{"k":"v","p":"b","x":4,"y":-3,"x2":5.28,"y2":-2.18,"r":-17},{"k":"v","p":"b","x":5,"y":-3,"x2":6.1,"y2":-2.55,"r":-11},{"k":"v","p":"b","x":6,"y":-3,"x2":7.31,"y2":-2.48,"r":-10},{"k":"v","p":"b","x":7,"y":-3,"x2":8.14,"y2":-2.85,"r":-3},{"k":"v","p":"b","x":8,"y":-3,"x2":8.66,"y2":-2.78,"r":-9},
{"k":"v","p":"b","x":0,"y":-4.5,"x2":0.52,"y2":-4.2,"r":-15},{"k":"v","p":"b","x":1,"y":-4.5,"x2":1.69,"y2":-4.13,"r":-14},{"k":"v","p":"b","x":2,"y":-4.5,"x2":2.86,"y2":-3.98,"r":-16},{"k":"v","p":"b","x":3,"y":-4.5,"x2":3.93,"y2":-3.68,"r":-22},{"k":"v","p":"b","x":4,"y":-4.5,"x2":4.79,"y2":-3.54,"r":-29},{"k":"v","p":"b","x":5,"y":-4.5,"x2":6.1,"y2":-3.54,"r":-22},{"k":"v","p":"b","x":6,"y":-4.5,"x2":7.1,"y2":-3.91,"r":-14},{"k":"v","p":"b","x":7,"y":-4.5,"x2":8.1,"y2":-3.98,"r":-12},{"k":"v","p":"b","x":8,"y":-4.5,"x2":8.48,"y2":-4.06,"r":-23},
{"k":"v","p":"b","x":1,"y":-6,"x2":1.59,"y2":-5.63,"r":-16},{"k":"v","p":"b","x":2,"y":-6,"x2":2.62,"y2":-5.48,"r":-21},{"k":"v","p":"b","x":3,"y":-6,"x2":3.72,"y2":-5.33,"r":-23},{"k":"v","p":"b","x":4,"y":-6,"x2":4.79,"y2":-4.96,"r":-31},{"k":"v","p":"b","x":5,"y":-6,"x2":5.86,"y2":-4.96,"r":-29},{"k":"v","p":"b","x":6,"y":-6,"x2":7.1,"y2":-5.11,"r":-21},{"k":"v","p":"b","x":7,"y":-6,"x2":7.97,"y2":-5.48,"r":-14},{"k":"v","p":"b","x":8,"y":-6,"x2":8.48,"y2":-5.78,"r":-12},
{"k":"v","p":"b","x":1,"y":-7.5,"x2":1.45,"y2":-7.06,"r":-25},{"k":"v","p":"b","x":2,"y":-7.5,"x2":2.52,"y2":-6.91,"r":-28},{"k":"v","p":"b","x":3,"y":-7.5,"x2":3.48,"y2":-6.61,"r":-41},{"k":"v","p":"b","x":4,"y":-7.5,"x2":4.45,"y2":-6.31,"r":-51},{"k":"v","p":"b","x":5,"y":-7.5,"x2":5.59,"y2":-6.31,"r":-43},{"k":"v","p":"b","x":6,"y":-7.5,"x2":6.79,"y2":-6.61,"r":-28},{"k":"v","p":"b","x":7,"y":-7.5,"x2":7.79,"y2":-6.83,"r":-21},
{"k":"v","p":"b","x":3,"y":-9,"x2":3.24,"y2":-8.04,"r":-62},{"k":"v","p":"b","x":4,"y":-9,"x2":4.17,"y2":-7.66,"r":-74},{"k":"v","p":"b","x":5,"y":-9,"x2":5.24,"y2":-7.66,"r":-69},{"k":"v","p":"b","x":6,"y":-9,"x2":6.45,"y2":-8.04,"r":-45},{"k":"v","p":"b","x":7,"y":-9,"x2":7.62,"y2":-8.41,"r":-24},
{"k":"v","p":"b","x":4,"y":-10.5,"x2":3.9,"y2":-9.16,"r":-99},{"k":"v","p":"b","x":5,"y":-10.5,"x2":4.83,"y2":-9.31,"r":-107},
{"k":"v","p":"b","x":4,"y":-12,"x2":3.72,"y2":-10.66,"r":-114},{"k":"v","p":"b","x":5,"y":-12,"x2":4.59,"y2":-10.66,"r":-124},
{"k":"v","p":"b","x":3,"y":-13.5,"x2":2.9,"y2":-12.39,"r":-101},{"k":"v","p":"b","x":4,"y":-13.5,"x2":3.66,"y2":-12.02,"r":-117},{"k":"v","p":"b","x":5,"y":-13.5,"x2":4.48,"y2":-12.02,"r":-127},{"k":"v","p":"b","x":6,"y":-13.5,"x2":5.66,"y2":-12.39,"r":-124},
{"k":"v","p":"b","x":3,"y":-15,"x2":2.86,"y2":-14.03,"r":-107},{"k":"v","p":"b","x":4,"y":-15,"x2":3.55,"y2":-13.59,"r":-124},{"k":"v","p":"b","x":5,"y":-15,"x2":4.45,"y2":-13.59,"r":-130},{"k":"v","p":"b","x":6,"y":-15,"x2":5.59,"y2":-13.89,"r":-129},

{"k":"v","p":"c","x":1,"y":15,"x2":0.59,"y2":14.63,"r":157},
{"k":"v","p":"c","x":1,"y":13.5,"x2":0.38,"y2":12.91,"r":156},{"k":"v","p":"c","x":2,"y":13.5,"x2":1.38,"y2":13.05,"r":162},{"k":"v","p":"c","x":7,"y":13.5,"x2":7.1,"y2":14.46,"r":-77},{"k":"v","p":"c","x":8,"y":13.5,"x2":8.24,"y2":14.54,"r":-63},{"k":"v","p":"c","x":9,"y":13.5,"x2":9.24,"y2":14.46,"r":-62},
{"k":"v","p":"c","x":1,"y":12,"x2":0.24,"y2":11.41,"r":160},{"k":"v","p":"c","x":2,"y":12,"x2":1.24,"y2":11.48,"r":162},{"k":"v","p":"c","x":3,"y":12,"x2":2.41,"y2":12,"r":180},{"k":"v","p":"c","x":7,"y":12,"x2":7.07,"y2":13.11,"r":-82},{"k":"v","p":"c","x":8,"y":12,"x2":8.21,"y2":13.11,"r":-68},{"k":"v","p":"c","x":9,"y":12,"x2":9.21,"y2":12.89,"r":-63},
{"k":"v","p":"c","x":1,"y":10.5,"x2":0.24,"y2":9.98,"r":162},{"k":"v","p":"c","x":2,"y":10.5,"x2":1.17,"y2":10.2,"r":171},{"k":"v","p":"c","x":3,"y":10.5,"x2":2.31,"y2":10.65,"r":-174},{"k":"v","p":"c","x":6,"y":10.5,"x2":6,"y2":11.61,"r":-90},{"k":"v","p":"c","x":7,"y":10.5,"x2":7.03,"y2":11.76,"r":-87},{"k":"v","p":"c","x":8,"y":10.5,"x2":8.14,"y2":11.76,"r":-77},
{"k":"v","p":"c","x":1,"y":9,"x2":0.21,"y2":8.78,"r":173},{"k":"v","p":"c","x":2,"y":9,"x2":1.14,"y2":9.15,"r":-175},{"k":"v","p":"c","x":3,"y":9,"x2":2.24,"y2":9.45,"r":-165},{"k":"v","p":"c","x":4,"y":9,"x2":3.52,"y2":9.67,"r":-147},{"k":"v","p":"c","x":5,"y":9,"x2":4.72,"y2":10.11,"r":-118},{"k":"v","p":"c","x":6,"y":9,"x2":6,"y2":10.48,"r":-90},{"k":"v","p":"c","x":7,"y":9,"x2":7.03,"y2":10.71,"r":-88},{"k":"v","p":"c","x":8,"y":9,"x2":8.07,"y2":10.34,"r":-84},
{"k":"v","p":"c","x":1,"y":7.5,"x2":0.07,"y2":7.72,"r":-174},{"k":"v","p":"c","x":2,"y":7.5,"x2":1,"y2":8.02,"r":-166},{"k":"v","p":"c","x":3,"y":7.5,"x2":2.07,"y2":8.32,"r":-158},{"k":"v","p":"c","x":4,"y":7.5,"x2":3.34,"y2":8.61,"r":-142},{"k":"v","p":"c","x":5,"y":7.5,"x2":4.72,"y2":8.98,"r":-112},{"k":"v","p":"c","x":6,"y":7.5,"x2":5.83,"y2":8.39,"r":-113},{"k":"v","p":"c","x":7,"y":7.5,"x2":7,"y2":9.21,"r":-90},{"k":"v","p":"c","x":8,"y":7.5,"x2":8.03,"y2":8.76,"r":-87},
{"k":"v","p":"c","x":1,"y":6,"x2":0.03,"y2":6.37,"r":-170},{"k":"v","p":"c","x":2,"y":6,"x2":0.9,"y2":6.59,"r":-166},{"k":"v","p":"c","x":3,"y":6,"x2":1.86,"y2":6.89,"r":-160},{"k":"v","p":"c","x":4,"y":6,"x2":3.03,"y2":7.26,"r":-149},{"k":"v","p":"c","x":5,"y":6,"x2":4.48,"y2":7.63,"r":-124},{"k":"v","p":"c","x":6,"y":6,"x2":5.69,"y2":7.48,"r":-114},{"k":"v","p":"c","x":7,"y":6,"x2":6.93,"y2":7.63,"r":-95},{"k":"v","p":"c","x":8,"y":6,"x2":8,"y2":7.63,"r":-90},
{"k":"v","p":"c","x":1,"y":4.5,"x2":0.03,"y2":4.95,"r":-168},{"k":"v","p":"c","x":2,"y":4.5,"x2":0.72,"y2":5.24,"r":-165},{"k":"v","p":"c","x":3,"y":4.5,"x2":1.62,"y2":5.54,"r":-161},{"k":"v","p":"c","x":4,"y":4.5,"x2":2.79,"y2":5.84,"r":-153},{"k":"v","p":"c","x":5,"y":4.5,"x2":4.14,"y2":5.98,"r":-141},{"k":"v","p":"c","x":6,"y":4.5,"x2":5.62,"y2":6.65,"r":-111},{"k":"v","p":"c","x":7,"y":4.5,"x2":6.55,"y2":5.54,"r":-133},{"k":"v","p":"c","x":8,"y":4.5,"x2":7.55,"y2":5.39,"r":-137},{"k":"v","p":"c","x":12,"y":4.5,"x2":11.45,"y2":4.5,"r":180},
{"k":"v","p":"c","x":1,"y":3,"x2":0.03,"y2":3.3,"r":-172},{"k":"v","p":"c","x":2,"y":3,"x2":0.69,"y2":3.52,"r":-170},{"k":"v","p":"c","x":3,"y":3,"x2":1.62,"y2":3.74,"r":-166},{"k":"v","p":"c","x":4,"y":3,"x2":2.55,"y2":4.11,"r":-160},{"k":"v","p":"c","x":5,"y":3,"x2":3.72,"y2":4.48,"r":-152},{"k":"v","p":"c","x":6,"y":3,"x2":5.31,"y2":4.48,"r":-135},{"k":"v","p":"c","x":7,"y":3,"x2":6.48,"y2":4.04,"r":-137},{"k":"v","p":"c","x":8,"y":3,"x2":7.59,"y2":3.67,"r":-143},{"k":"v","p":"c","x":9,"y":3,"x2":8.48,"y2":3.37,"r":-162},{"k":"v","p":"c","x":10,"y":3,"x2":9.48,"y2":3,"r":180},{"k":"v","p":"c","x":11,"y":3,"x2":10.48,"y2":3,"r":180},
{"k":"v","p":"c","x":1,"y":1.5,"x2":0.03,"y2":1.65,"r":-176},{"k":"v","p":"c","x":2,"y":1.5,"x2":0.62,"y2":1.72,"r":-176},{"k":"v","p":"c","x":3,"y":1.5,"x2":1.45,"y2":1.8,"r":-175},{"k":"v","p":"c","x":4,"y":1.5,"x2":2.45,"y2":2.24,"r":-167},{"k":"v","p":"c","x":5,"y":1.5,"x2":3.55,"y2":2.61,"r":-160},{"k":"v","p":"c","x":6,"y":1.5,"x2":4.45,"y2":2.76,"r":-159},{"k":"v","p":"c","x":7,"y":1.5,"x2":5.79,"y2":2.84,"r":-153},{"k":"v","p":"c","x":8,"y":1.5,"x2":7.21,"y2":2.54,"r":-149},{"k":"v","p":"c","x":9,"y":1.5,"x2":8.31,"y2":1.87,"r":-166},{"k":"v","p":"c","x":10,"y":1.5,"x2":9.41,"y2":1.5,"r":180},{"k":"v","p":"c","x":11,"y":1.5,"x2":10.41,"y2":1.5,"r":180},{"k":"v","p":"c","x":12,"y":1.5,"x2":11.48,"y2":1.5,"r":180},
{"k":"v","p":"c","x":1,"y":0,"x2":0.03,"y2":-0.22,"r":174},{"k":"v","p":"c","x":2,"y":0,"x2":0.62,"y2":0,"r":180},{"k":"v","p":"c","x":3,"y":0,"x2":1.45,"y2":0.15,"r":-177},{"k":"v","p":"c","x":4,"y":0,"x2":2.34,"y2":0.22,"r":-176},{"k":"v","p":"c","x":5,"y":0,"x2":3.28,"y2":0.3,"r":-175},{"k":"v","p":"c","x":6,"y":0,"x2":4.28,"y2":0.3,"r":-175},{"k":"v","p":"c","x":7,"y":0,"x2":5.45,"y2":0.3,"r":-175},{"k":"v","p":"c","x":8,"y":0,"x2":6.79,"y2":0.22,"r":-175},{"k":"v","p":"c","x":9,"y":0,"x2":8.14,"y2":0.07,"r":-178},{"k":"v","p":"c","x":10,"y":0,"x2":9.31,"y2":0,"r":180},{"k":"v","p":"c","x":11,"y":0,"x2":10.31,"y2":0,"r":180},{"k":"v","p":"c","x":12,"y":0,"x2":11.48,"y2":0,"r":180},
{"k":"v","p":"c","x":1,"y":-1.5,"x2":0.21,"y2":-2.47,"r":151},{"k":"v","p":"c","x":2,"y":-1.5,"x2":1,"y2":-2.47,"r":156},{"k":"v","p":"c","x":3,"y":-1.5,"x2":1.79,"y2":-2.61,"r":157},{"k":"v","p":"c","x":4,"y":-1.5,"x2":2.55,"y2":-2.09,"r":169},{"k":"v","p":"c","x":5,"y":-1.5,"x2":3.34,"y2":-1.87,"r":174},{"k":"v","p":"c","x":6,"y":-1.5,"x2":4.38,"y2":-1.5,"r":180},{"k":"v","p":"c","x":7,"y":-1.5,"x2":5.45,"y2":-1.35,"r":-177},{"k":"v","p":"c","x":8,"y":-1.5,"x2":6.62,"y2":-1.35,"r":-177},{"k":"v","p":"c","x":9,"y":-1.5,"x2":7.93,"y2":-1.5,"r":180},{"k":"v","p":"c","x":10,"y":-1.5,"x2":9.31,"y2":-1.65,"r":174},
{"k":"v","p":"c","x":1,"y":-3,"x2":0.38,"y2":-4.04,"r":142},{"k":"v","p":"c","x":2,"y":-3,"x2":1.17,"y2":-4.04,"r":150},{"k":"v","p":"c","x":3,"y":-3,"x2":1.97,"y2":-4.11,"r":153},{"k":"v","p":"c","x":4,"y":-3,"x2":2.69,"y2":-4.11,"r":158},{"k":"v","p":"c","x":5,"y":-3,"x2":3.38,"y2":-3.89,"r":166},{"k":"v","p":"c","x":6,"y":-3,"x2":4.21,"y2":-3.59,"r":171},{"k":"v","p":"c","x":7,"y":-3,"x2":5.24,"y2":-3.37,"r":174},{"k":"v","p":"c","x":8,"y":-3,"x2":6.45,"y2":-3.22,"r":176},{"k":"v","p":"c","x":9,"y":-3,"x2":7.93,"y2":-3,"r":180},{"k":"v","p":"c","x":10,"y":-3,"x2":9.31,"y2":-3.07,"r":177},
{"k":"v","p":"c","x":1,"y":-4.5,"x2":0.55,"y2":-5.32,"r":140},{"k":"v","p":"c","x":2,"y":-4.5,"x2":1.34,"y2":-5.39,"r":148},{"k":"v","p":"c","x":3,"y":-4.5,"x2":2.07,"y2":-5.69,"r":149},{"k":"v","p":"c","x":4,"y":-4.5,"x2":2.86,"y2":-5.61,"r":156},{"k":"v","p":"c","x":5,"y":-4.5,"x2":3.86,"y2":-5.61,"r":156},{"k":"v","p":"c","x":6,"y":-4.5,"x2":4.31,"y2":-5.46,"r":165},{"k":"v","p":"c","x":7,"y":-4.5,"x2":5.24,"y2":-5.24,"r":169},{"k":"v","p":"c","x":8,"y":-4.5,"x2":6.48,"y2":-4.87,"r":174},{"k":"v","p":"c","x":9,"y":-4.5,"x2":8,"y2":-4.65,"r":176},{"k":"v","p":"c","x":10,"y":-4.5,"x2":9.38,"y2":-4.5,"r":180},
{"k":"v","p":"c","x":2,"y":-6,"x2":1.52,"y2":-6.89,"r":139},{"k":"v","p":"c","x":3,"y":-6,"x2":2.41,"y2":-7.04,"r":141},{"k":"v","p":"c","x":4,"y":-6,"x2":3.21,"y2":-7.26,"r":144},{"k":"v","p":"c","x":5,"y":-6,"x2":3.86,"y2":-7.26,"r":153},{"k":"v","p":"c","x":6,"y":-6,"x2":4.48,"y2":-7.19,"r":160},{"k":"v","p":"c","x":7,"y":-6,"x2":5.28,"y2":-6.89,"r":167},{"k":"v","p":"c","x":8,"y":-6,"x2":6.62,"y2":-6.52,"r":170},{"k":"v","p":"c","x":9,"y":-6,"x2":8.03,"y2":-6.3,"r":172},
{"k":"v","p":"c","x":2,"y":-7.5,"x2":1.62,"y2":-8.24,"r":138},{"k":"v","p":"c","x":3,"y":-7.5,"x2":2.59,"y2":-8.46,"r":133},{"k":"v","p":"c","x":4,"y":-7.5,"x2":3.52,"y2":-8.76,"r":129},{"k":"v","p":"c","x":5,"y":-7.5,"x2":4.21,"y2":-8.69,"r":145},{"k":"v","p":"c","x":6,"y":-7.5,"x2":4.76,"y2":-8.69,"r":156},{"k":"v","p":"c","x":7,"y":-7.5,"x2":5.62,"y2":-8.32,"r":165},{"k":"v","p":"c","x":8,"y":-7.5,"x2":6.69,"y2":-7.87,"r":173},{"k":"v","p":"c","x":9,"y":-7.5,"x2":8.17,"y2":-7.65,"r":175},
{"k":"v","p":"c","x":3,"y":-9,"x2":2.83,"y2":-10.04,"r":110},{"k":"v","p":"c","x":4,"y":-9,"x2":3.79,"y2":-10.41,"r":108},{"k":"v","p":"c","x":5,"y":-9,"x2":4.55,"y2":-10.48,"r":123},{"k":"v","p":"c","x":6,"y":-9,"x2":5.17,"y2":-10.11,"r":148},{"k":"v","p":"c","x":7,"y":-9,"x2":5.93,"y2":-9.74,"r":162},{"k":"v","p":"c","x":8,"y":-9,"x2":7,"y2":-9.45,"r":168},{"k":"v","p":"c","x":9,"y":-9,"x2":8.38,"y2":-9.15,"r":174},
{"k":"v","p":"c","x":3,"y":-10.5,"x2":2.9,"y2":-11.61,"r":101},{"k":"v","p":"c","x":4,"y":-10.5,"x2":4.03,"y2":-11.91,"r":87},{"k":"v","p":"c","x":5,"y":-10.5,"x2":4.9,"y2":-12.06,"r":98},{"k":"v","p":"c","x":6,"y":-10.5,"x2":5.59,"y2":-11.76,"r":125},{"k":"v","p":"c","x":7,"y":-10.5,"x2":6.28,"y2":-11.32,"r":152},{"k":"v","p":"c","x":8,"y":-10.5,"x2":7.24,"y2":-10.95,"r":165},
{"k":"v","p":"c","x":1,"y":-12,"x2":0.48,"y2":-12.07,"r":176},{"k":"v","p":"c","x":4,"y":-12,"x2":4.24,"y2":-13.26,"r":68},{"k":"v","p":"c","x":5,"y":-12,"x2":5.21,"y2":-13.41,"r":72},{"k":"v","p":"c","x":6,"y":-12,"x2":5.97,"y2":-13.26,"r":93},{"k":"v","p":"c","x":7,"y":-12,"x2":6.62,"y2":-12.89,"r":132},{"k":"v","p":"c","x":8,"y":-12,"x2":7.48,"y2":-12.67,"r":149},
{"k":"v","p":"c","x":1,"y":-13.5,"x2":0.41,"y2":-13.5,"r":180},{"k":"v","p":"c","x":4,"y":-13.5,"x2":4.34,"y2":-14.84,"r":61},{"k":"v","p":"c","x":5,"y":-13.5,"x2":5.41,"y2":-14.84,"r":56},{"k":"v","p":"c","x":6,"y":-13.5,"x2":6.31,"y2":-14.84,"r":63}
],
"cb":[
{"k":"r","u":1,"u2":2,"b":"s"},{"k":"r","u":2,"u2":3,"b":"o"},{"k":"r","u":3,"u2":4,"b":"w"},{"k":"r","u":4,"u2":5,"b":"g"},{"k":"r","u":5,"u2":6,"b":"m"},
{"k":"t","id":"L","i":0,"u":1,"v":0},{"k":"t","id":"L","i":1,"u":0,"v":0.5},{"k":"t","id":"L","i":2,"u":1,"v":1},
{"k":"t","id":"R","i":0,"u":6,"v":0},{"k":"t","id":"R","i":1,"u":7,"v":0.5},{"k":"t","id":"R","i":2,"u":6,"v":1},
{"k":"x","u":1,"t":"−1"},{"k":"x","u":2,"t":"−0.7"},{"k":"x","u":3,"t":"−0.4"},{"k":"x","u":4,"t":"0.5"},{"k":"x","u":5,"t":"1"},{"k":"x","u":6,"t":"1.5"}
]
},
"spacing":7,
"vconcat":[
{
"data":{"name":"d"},
"facet":{"column":{"field":"p","type":"nominal","header":null,"title":null}},
"spacing":68.7,
"bounds":"flush",
"resolve":{"axis":{"y":"independent"}},
"spec":{
"width":348,"height":404,
"layer":[
{"transform":[{"filter":"datum.k=='f'&&datum.lev=='o'"}],"mark":{"type":"line","interpolate":"linear-closed","fill":"#ffbe46","stroke":"#ffbe46","strokeWidth":0.5},"encoding":{
"x":{"field":"x","type":"quantitative","title":null,"scale":{"domain":[0,12],"nice":false,"zero":false},
"axis":{"values":[0,2,4,6,8,10,12],"labelExpr":"['Jul','Sep','Nov','Jan','Mar','May','Jul'][round(datum.value/2)]","grid":true,"gridDash":[2,6.5],"gridColor":"#7a7a7a","gridWidth":1.5,"tickSize":7,"tickWidth":2,"tickColor":"black","domainColor":"black","domainWidth":2,"labelFont":"DejaVu Sans","labelFontSize":18,"labelColor":"black","labelPadding":5,"labelFlush":false,"labelOverlap":false,"zindex":1}},
"y":{"field":"y","type":"quantitative","title":null,"scale":{"domain":[-15,15],"nice":false,"zero":false},
"axis":{"values":[-15,-12,-9,-6,-3,0,3,6,9,12,15],"labelExpr":"datum.value==0?'EQ':(datum.value>0?datum.value+'N':(-datum.value)+'S')","grid":true,"gridDash":[2,6.5],"gridColor":"#7a7a7a","gridWidth":1.5,"tickSize":7,"tickWidth":2,"tickColor":"black","domainColor":"black","domainWidth":2,"labelFont":"Liberation Sans","labelFontSize":20,"labelColor":"black","labelPadding":6,"labelFlush":false,"labelOverlap":false,"zindex":1}},
"detail":{"field":"id"},"order":{"field":"i","type":"quantitative"}}},
{"transform":[{"filter":"datum.k=='f'&&datum.lev=='s'"}],"mark":{"type":"line","interpolate":"linear-closed","fill":"#ff8c50","stroke":"#ff8c50","strokeWidth":0.5},"encoding":{"x":{"field":"x","type":"quantitative","title":null},"y":{"field":"y","type":"quantitative","title":null},"detail":{"field":"id"},"order":{"field":"i","type":"quantitative"}}},
{"transform":[{"filter":"datum.k=='f'&&datum.lev=='r'"}],"mark":{"type":"line","interpolate":"linear-closed","fill":"#fa3c2c","stroke":"#fa3c2c","strokeWidth":0.5},"encoding":{"x":{"field":"x","type":"quantitative","title":null},"y":{"field":"y","type":"quantitative","title":null},"detail":{"field":"id"},"order":{"field":"i","type":"quantitative"}}},
{"transform":[{"filter":"datum.k=='f'&&datum.lev=='g'"}],"mark":{"type":"line","interpolate":"linear-closed","fill":"#00dc1e","stroke":"#00dc1e","strokeWidth":0.5},"encoding":{"x":{"field":"x","type":"quantitative","title":null},"y":{"field":"y","type":"quantitative","title":null},"detail":{"field":"id"},"order":{"field":"i","type":"quantitative"}}},
{"transform":[{"filter":"datum.k=='f'&&datum.lev=='m'"}],"mark":{"type":"line","interpolate":"linear-closed","fill":"#00ac0c","stroke":"#00ac0c","strokeWidth":0.5},"encoding":{"x":{"field":"x","type":"quantitative","title":null},"y":{"field":"y","type":"quantitative","title":null},"detail":{"field":"id"},"order":{"field":"i","type":"quantitative"}}},
{"transform":[{"filter":"datum.k=='f'&&datum.lev=='k'"}],"mark":{"type":"line","interpolate":"linear-closed","fill":"#007c08","stroke":"#007c08","strokeWidth":0.5},"encoding":{"x":{"field":"x","type":"quantitative","title":null},"y":{"field":"y","type":"quantitative","title":null},"detail":{"field":"id"},"order":{"field":"i","type":"quantitative"}}},
{"transform":[{"filter":"datum.k=='l'&&datum.c=='r'"}],"mark":{"type":"line","stroke":"#ff1a1a","strokeWidth":1.4},"encoding":{"x":{"field":"x","type":"quantitative","title":null},"y":{"field":"y","type":"quantitative","title":null},"detail":{"field":"id"},"order":{"field":"i","type":"quantitative"}}},
{"transform":[{"filter":"datum.k=='l'&&datum.c=='b'"}],"mark":{"type":"line","stroke":"#1f4fff","strokeWidth":1.4,"strokeDash":[5,3]},"encoding":{"x":{"field":"x","type":"quantitative","title":null},"y":{"field":"y","type":"quantitative","title":null},"detail":{"field":"id"},"order":{"field":"i","type":"quantitative"}}},
{"transform":[{"filter":"datum.k=='t'"}],"mark":{"type":"rule","stroke":"#c43cc8","strokeWidth":2,"strokeDash":[6,3]},"encoding":{"x":{"datum":0},"x2":{"datum":12},"y":{"datum":0}}},
{"transform":[{"filter":"datum.k=='v'"}],"mark":{"type":"rule","stroke":"#505050","strokeWidth":1.2},"encoding":{"x":{"field":"x","type":"quantitative","title":null},"y":{"field":"y","type":"quantitative","title":null},"x2":{"field":"x2"},"y2":{"field":"y2"}}},
{"transform":[{"filter":"datum.k=='v'"}],"mark":{"type":"point","shape":"M-1,-0.55L0,0L-1,0.55","filled":false,"stroke":"#505050","strokeWidth":1.2,"size":100,"opacity":1},"encoding":{"x":{"field":"x2","type":"quantitative","title":null},"y":{"field":"y2","type":"quantitative","title":null},"angle":{"field":"r","type":"quantitative","scale":null}}},
{"transform":[{"filter":"datum.k=='t'"}],"mark":{"type":"text","align":"left","baseline":"alphabetic","font":"DejaVu Sans","fontSize":22,"fontWeight":300,"color":"#111111"},"encoding":{"x":{"datum":0.05},"y":{"datum":15.82},"text":{"field":"tt"}}},
{"transform":[{"filter":"datum.k=='t'"}],"mark":{"type":"rule","stroke":"#505050","strokeWidth":1.2},"encoding":{"x":{"datum":7.6},"x2":{"datum":9.6},"y":{"datum":16.56}}},
{"transform":[{"filter":"datum.k=='t'"}],"mark":{"type":"point","shape":"M-1,-0.55L0,0L-1,0.55","filled":false,"stroke":"#505050","strokeWidth":1.2,"size":100,"opacity":1,"angle":0},"encoding":{"x":{"datum":9.6},"y":{"datum":16.56}}},
{"transform":[{"filter":"datum.k=='t'"}],"mark":{"type":"text","align":"left","baseline":"alphabetic","font":"DejaVu Sans","fontSize":22,"fontWeight":300,"color":"#555555"},"encoding":{"x":{"datum":9.95},"y":{"datum":15.82},"text":{"field":"rt"}}},
{"transform":[{"filter":"datum.k=='t'"}],"mark":{"type":"text","align":"center","baseline":"middle","font":"DejaVu Sans","fontSize":18,"color":"black"},"encoding":{"x":{"datum":2.75},"y":{"datum":-18.56},"text":{"value":"YEAR0"}}},
{"transform":[{"filter":"datum.k=='t'"}],"mark":{"type":"text","align":"center","baseline":"middle","font":"DejaVu Sans","fontSize":18,"color":"black"},"encoding":{"x":{"datum":8.7},"y":{"datum":-18.56},"text":{"value":"YEAR1"}}},
{"transform":[{"filter":"datum.k=='t'"}],"mark":{"type":"point","shape":"square","filled":true,"color":"white","size":1,"opacity":1},"encoding":{"x":{"datum":-1.931},"y":{"datum":17.896}}}
]
}
},
{
"data":{"name":"cb"},
"width":1190,"height":23,
"view":{"stroke":null},
"layer":[
{"transform":[{"filter":"datum.k=='r'"}],"mark":{"type":"rect","stroke":"black","strokeWidth":1.5},"encoding":{"x":{"field":"u","type":"quantitative","title":null,"scale":{"domain":[-13.53,7.059],"nice":false,"zero":false},"axis":null},"x2":{"field":"u2"},"y":{"datum":0,"scale":{"domain":[0,1],"nice":false,"zero":false},"axis":null},"y2":{"datum":1},"fill":{"field":"b","type":"nominal","scale":{"domain":["s","o","w","g","m"],"range":["#ff8c50","#ffbe46","#ffffff","#00dc1e","#00ac0c"]},"legend":null}}},
{"transform":[{"filter":"datum.k=='t'&&datum.id=='L'"}],"mark":{"type":"line","interpolate":"linear-closed","fill":"#fa3c2c","stroke":"black","strokeWidth":1.5},"encoding":{"x":{"field":"u","type":"quantitative","title":null},"y":{"field":"v","type":"quantitative","title":null},"order":{"field":"i","type":"quantitative"}}},
{"transform":[{"filter":"datum.k=='t'&&datum.id=='R'"}],"mark":{"type":"line","interpolate":"linear-closed","fill":"#007c08","stroke":"black","strokeWidth":1.5},"encoding":{"x":{"field":"u","type":"quantitative","title":null},"y":{"field":"v","type":"quantitative","title":null},"order":{"field":"i","type":"quantitative"}}},
{"transform":[{"filter":"datum.k=='x'"}],"mark":{"type":"text","align":"center","baseline":"middle","font":"Liberation Sans","fontSize":23,"color":"black"},"encoding":{"x":{"field":"u","type":"quantitative","title":null},"y":{"datum":-0.55},"text":{"field":"t"}}}
]
}
]
}
